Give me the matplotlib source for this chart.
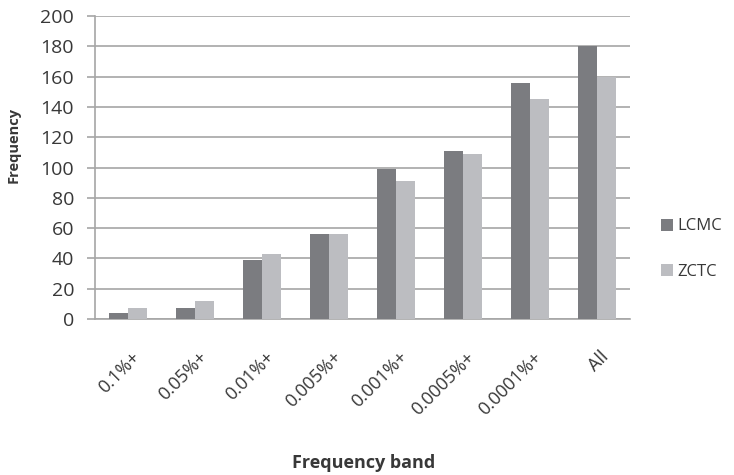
import numpy as np
import matplotlib
matplotlib.use("Agg")
import matplotlib.pyplot as plt
import matplotlib.transforms as mtrans

# données
BANDS = ["0.1%+", "0.05%+", "0.01%+", "0.005%+", "0.001%+", "0.0005%+", "0.0001%+", "All"]
LCMC = [4, 7, 39, 56, 99, 111, 156, 180]
ZCTC = [7, 12, 43, 56, 91, 109, 145, 160]

plt.rcParams['font.family'] = ['Open Sans', 'DejaVu Sans']
TXT = '#383838'
GRID = '#a6a6a6'

fig = plt.figure(figsize=(7.34, 4.75), dpi=100)
ax = fig.add_axes([0.1294, 0.3284, 0.8583 - 0.1294, 0.9663 - 0.3284])

x = np.arange(len(BANDS))
w = 0.284
ax.bar(x - w / 2, LCMC, w, color='#7b7c80', label='LCMC', zorder=3)
ax.bar(x + w / 2, ZCTC, w, color='#bcbdc1', label='ZCTC', zorder=3)

ax.set_xlim(-0.5, len(BANDS) - 0.5)
ax.set_ylim(0, 200)
ax.set_yticks(np.arange(0, 201, 20))
ax.yaxis.grid(True, color=GRID, lw=1.2, zorder=0)

ax.set_xticks(x)
ax.set_xticklabels(BANDS, rotation=45, ha='right', rotation_mode='anchor')
ax.tick_params(axis='x', length=0, pad=21, labelsize=13, labelcolor=TXT)
ax.tick_params(axis='y', length=6, color=GRID, width=1.2, labelsize=14,
               labelcolor=TXT, pad=9)
# petit décalage des étiquettes vers la droite
off = mtrans.ScaledTranslation(3 / 100, 0, fig.dpi_scale_trans)
for lab in ax.get_xticklabels():
    lab.set_transform(lab.get_transform() + off)

for s in ['top', 'right']:
    ax.spines[s].set_visible(False)
for s in ['left', 'bottom']:
    ax.spines[s].set_color(GRID)
    ax.spines[s].set_linewidth(1.2)

fig.text(14 / 734, 1 - 145 / 475, "Frequency", rotation=90, fontsize=10.5,
         fontweight='bold', color=TXT, ha='center', va='center')
fig.text(364 / 734, 1 - 463 / 475, "Frequency band", fontsize=13, fontweight='bold',
         color=TXT, ha='center', va='center')

fig.legend(loc='center left', bbox_to_anchor=(0.8955, 0.4758), frameon=False,
           fontsize=12, handlelength=0.72, handleheight=0.72, handletextpad=0.3,
           labelspacing=1.75, labelcolor=TXT, borderpad=0.2, borderaxespad=0)

fig.savefig("out.png", dpi=100)
